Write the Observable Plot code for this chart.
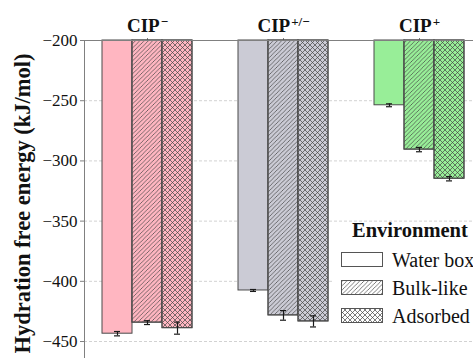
<!DOCTYPE html>
<html>
<head>
<meta charset="utf-8">
<script src="https://cdn.jsdelivr.net/npm/d3@7"></script>
<script src="https://cdn.jsdelivr.net/npm/@observablehq/plot@0.6"></script>
<style>
  html, body { margin: 0; padding: 0; background: #fff; overflow: hidden; }
  #chart { width: 473px; height: 358px; overflow: hidden; }
  #chart svg { display: block; max-width: none !important; height: 358px !important; }
  #chart svg text { font-family: "Liberation Serif", "Times New Roman", serif; }
</style>
</head>
<body>
<div id="chart"></div>
<script>
// Ciprofloxacin charge states (base name + superscript charge)
const species = ["CIP-", "CIP+/-", "CIP+"];
const speciesBase = ["CIP", "CIP", "CIP"];
const speciesCharge = ["\u2212", "+/\u2212", "+"];
const speciesColors = ["#ffb6c1", "#cbcbd5", "#98ee98"];

// Simulation environments
const environments = ["Water box", "Bulk-like", "Adsorbed"];
const environmentHatch = ["none", "url(#hatch-diag)", "url(#hatch-cross)"];

// Hydration free energy (kJ/mol), one value per species, and its error
const energyWaterBox = [-443.5, -407.6, -253.8];
const energyBulkLike = [-434.3, -428.3, -290.6];
const energyAdsorbed = [-438.9, -433.3, -314.8];
const errorWaterBox = [1.8, 0.8, 1.2];
const errorBulkLike = [1.6, 4.0, 1.8];
const errorAdsorbed = [5.0, 4.6, 1.8];

const yTicks = [-200, -250, -300, -350, -400, -450];
const yTop = -200;
const yBottom = -464.1;

const energies = [energyWaterBox, energyBulkLike, energyAdsorbed];
const errors = [errorWaterBox, errorBulkLike, errorAdsorbed];

// One table per environment; each is drawn in its own third of the species band
const tables = environments.map((e, j) => species.map((s, i) => ({
  species: s,
  environment: e,
  value: energies[j][i],
  err: errors[j][i],
  color: speciesColors[i],
  hatch: environmentHatch[j]
})));

const serif = "'Liberation Serif', 'Times New Roman', serif";
const third = 30;   // width of one bar inside a 90px group
const capHalf = 3;  // half width of error-bar caps

const envMarks = tables.flatMap((rows, j) => {
  const insetLeft = third * j;
  const insetRight = third * (2 - j);
  const dx = third * (j - 1);
  const capLeft = insetLeft + third / 2 - capHalf;
  const capRight = insetRight + third / 2 - capHalf;
  const marks = [
    Plot.barY(rows, { x: "species", y1: yTop, y2: "value", fill: "color", stroke: "#4a4a4a", strokeWidth: 1, insetLeft, insetRight })
  ];
  if (environmentHatch[j] !== "none") {
    marks.push(Plot.barY(rows, { x: "species", y1: yTop, y2: "value", fill: "hatch", stroke: "#4a4a4a", strokeWidth: 1, insetLeft, insetRight }));
  }
  marks.push(
    Plot.ruleX(rows, { x: "species", y1: d => d.value - d.err, y2: d => d.value + d.err, dx, stroke: "#1a1a1a", strokeWidth: 1.2 }),
    Plot.tickY(rows, { x: "species", y: d => d.value - d.err, stroke: "#1a1a1a", strokeWidth: 1.2, insetLeft: capLeft, insetRight: capRight }),
    Plot.tickY(rows, { x: "species", y: d => d.value + d.err, stroke: "#1a1a1a", strokeWidth: 1.2, insetLeft: capLeft, insetRight: capRight })
  );
  return marks;
});

const chart = Plot.plot({
  width: 481,
  height: 358,
  marginLeft: 84,
  marginRight: 0,
  marginTop: 40,
  marginBottom: 0,
  style: { fontFamily: serif, fontSize: "17px", color: "#111", background: "#fff", maxWidth: "none" },
  x: { domain: species, paddingInner: 0.3407, paddingOuter: 0.1245, label: null, axis: "top", tickSize: 3, tickPadding: 6 },
  y: {
    domain: [yBottom, yTop],
    ticks: yTicks,
    tickSize: 4,
    tickPadding: 3,
    label: "Hydration free energy (kJ/mol)",
    labelAnchor: "center",
    labelArrow: "none",
    labelOffset: 70
  },
  color: { type: "identity" },
  marks: [
    Plot.gridY(yTicks.slice(1), { stroke: "#d2d2d2", strokeOpacity: 1, strokeDasharray: "3,2", strokeWidth: 1 }),
    ...envMarks,
    Plot.frame({ anchor: "top", stroke: "#808080" }),
    Plot.frame({ anchor: "left", stroke: "#808080" })
  ]
});

const svg = d3.select(chart.tagName.toLowerCase() === "svg" ? chart : chart.querySelector("svg"));

// Hatch patterns used by the bars and the legend
const defs = svg.insert("defs", ":first-child");
const diag = defs.append("pattern")
  .attr("id", "hatch-diag").attr("patternUnits", "userSpaceOnUse")
  .attr("width", 4.3).attr("height", 4.3);
diag.append("path").attr("d", "M-1,1 l2,-2 M0,4.3 l4.3,-4.3 M3.3,5.3 l2,-2")
  .attr("stroke", "#444").attr("stroke-width", 0.7);
const cross = defs.append("pattern")
  .attr("id", "hatch-cross").attr("patternUnits", "userSpaceOnUse")
  .attr("width", 5).attr("height", 5);
cross.append("path").attr("d", "M-1,1 l2,-2 M0,5 l5,-5 M4,6 l2,-2 M-1,4 l2,2 M0,0 l5,5 M4,-1 l2,2")
  .attr("stroke", "#444").attr("stroke-width", 0.7);

// Axis text styling
svg.selectAll("text").attr("font-family", serif);
svg.selectAll('[aria-label="y-axis label"] text')
  .attr("font-size", 22.5).attr("font-weight", "bold").attr("fill", "#111").attr("dx", -4);
svg.selectAll('[aria-label="y-axis tick label"] text').attr("fill", "#111");
svg.selectAll('[aria-label="y-axis tick"] path').attr("stroke", "#808080");
svg.selectAll('[aria-label="x-axis tick"] path').attr("stroke", "#808080");

// Group titles: base name with a superscript charge
svg.selectAll('[aria-label="x-axis tick label"] text').each(function () {
  const t = d3.select(this);
  const key = t.text();
  const i = species.indexOf(key);
  if (i < 0) return;
  t.text(null).attr("font-size", 19).attr("font-weight", "bold").attr("fill", "#111");
  t.append("tspan").text(speciesBase[i]);
  t.append("tspan").attr("font-size", 13).attr("dy", "-0.4em").attr("dx", 1).text(speciesCharge[i]);
});

// Legend for the environments
const legend = svg.append("g").attr("font-family", serif).attr("fill", "#111").attr("text-anchor", "start");
legend.append("rect").attr("x", 334).attr("y", 224).attr("width", 160).attr("height", 108).attr("fill", "#fff");
legend.append("text").attr("x", 352).attr("y", 237).attr("font-size", 20.5).attr("font-weight", "bold").text("Environment");
environments.forEach((e, j) => {
  const top = 252 + j * 28;
  legend.append("rect").attr("x", 341.5).attr("y", top + 0.5).attr("width", 41).attr("height", 14)
    .attr("fill", "#fff").attr("stroke", "#555");
  if (environmentHatch[j] !== "none") {
    legend.append("rect").attr("x", 341.5).attr("y", top + 0.5).attr("width", 41).attr("height", 14)
      .attr("fill", environmentHatch[j]).attr("stroke", "#555");
  }
  legend.append("text").attr("x", 392).attr("y", top + 15).attr("font-size", 20).text(e);
});

document.getElementById("chart").appendChild(chart);
</script>
</body>
</html>
